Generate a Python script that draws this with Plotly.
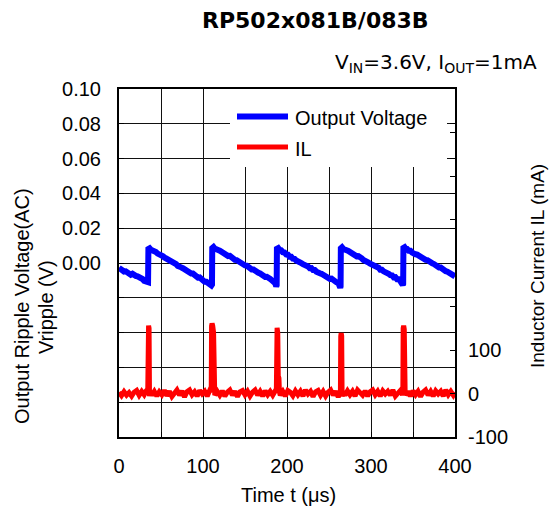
import plotly.graph_objects as go

# ---------------- data ----------------
# Output ripple voltage (V) vs time (us)
t_v = [0, 2, 4, 6, 8, 10, 12, 14, 16, 18, 20, 22, 24, 26, 28, 30, 32, 33.5, 34.6,
       35.0, 36.5, 38, 40, 42, 44, 46, 48, 50, 52, 54, 56, 58, 60, 62, 64, 66, 68, 70,
       72, 74, 76, 78, 80, 82, 84, 86, 88, 90, 92, 94, 96, 98, 100, 102, 104, 106, 108,
       110, 110.7,
       111.0, 112.5, 114, 116, 118, 120, 122, 124, 126, 128, 130, 132, 134, 136, 138,
       140, 142, 144, 146, 148, 150, 152, 154, 156, 158, 160, 162, 164, 166, 168, 170,
       172, 174, 176, 178, 180, 182, 184, 186, 187.2, 187.7,
       188.0, 189.5, 191, 193, 195, 197, 199, 201, 203, 205, 207, 209, 211, 213, 215,
       217, 219, 221, 223, 225, 227, 229, 231, 233, 235, 237, 239, 241, 243, 245, 247,
       249, 251, 253, 255, 257, 259, 261, 262.5, 263.4, 263.8,
       264.1, 265.5, 267, 269, 271, 273, 275, 277, 279, 281, 283, 285, 287, 289, 291,
       293, 295, 297, 299, 301, 303, 305, 307, 309, 311, 313, 315, 317, 319, 321, 323,
       325, 327, 329, 331, 333, 335, 336.8, 337.8, 338.3,
       338.6, 340, 341.5, 343, 345, 347, 349, 351, 353, 355, 357, 359, 361, 363, 365,
       367, 369, 371, 373, 375, 377, 379, 381, 383, 385, 387, 389, 391, 393, 395, 397,
       399, 400]
v_out = [-0.0028, -0.0036, -0.0038, -0.0049, -0.0048, -0.0058, -0.0058, -0.0067, -0.0062,
         -0.0074, -0.0074, -0.0077, -0.0080, -0.0090, -0.0092, -0.0103, -0.0106, -0.0114,
         -0.0110,
         0.0080, 0.0084, 0.0076, 0.0074, 0.0065, 0.0063, 0.0054, 0.0052, 0.0044, 0.0040,
         0.0032, 0.0027, 0.0019, 0.0019, 0.0006, 0.0006, -0.0002, -0.0006, -0.0017, -0.0017,
         -0.0025, -0.0030, -0.0038, -0.0038, -0.0049, -0.0053, -0.0061, -0.0061, -0.0072,
         -0.0076, -0.0084, -0.0083, -0.0095, -0.0097, -0.0108, -0.0108, -0.0116, -0.0120,
         -0.0129, -0.0124,
         0.0086, 0.0092, 0.0083, 0.0082, 0.0075, 0.0071, 0.0064, 0.0060, 0.0052, 0.0051,
         0.0040, 0.0041, 0.0029, 0.0029, 0.0018, 0.0017, 0.0009, 0.0005, -0.0002, -0.0006,
         -0.0014, -0.0015, -0.0026, -0.0025, -0.0037, -0.0037, -0.0046, -0.0049, -0.0056,
         -0.0060, -0.0068, -0.0069, -0.0080, -0.0079, -0.0091, -0.0091, -0.0100, -0.0104,
         -0.0117, -0.0134, -0.0128,
         0.0082, 0.0086, 0.0076, 0.0074, 0.0062, 0.0060, 0.0049, 0.0048, 0.0036, 0.0036,
         0.0025, 0.0024, 0.0014, 0.0012, 0.0004, 0.0000, -0.0007, -0.0010, -0.0018,
         -0.0020, -0.0030, -0.0029, -0.0040, -0.0040, -0.0050, -0.0051, -0.0059, -0.0062,
         -0.0069, -0.0072, -0.0080, -0.0081, -0.0091, -0.0090, -0.0101, -0.0101, -0.0111,
         -0.0114, -0.0127, -0.0142, -0.0134,
         0.0084, 0.0090, 0.0081, 0.0080, 0.0073, 0.0069, 0.0062, 0.0058, 0.0050, 0.0049,
         0.0038, 0.0039, 0.0027, 0.0027, 0.0017, 0.0015, 0.0007, 0.0003, -0.0004, -0.0008,
         -0.0016, -0.0017, -0.0028, -0.0027, -0.0039, -0.0039, -0.0048, -0.0051, -0.0058,
         -0.0062, -0.0070, -0.0071, -0.0082, -0.0081, -0.0093, -0.0093, -0.0104, -0.0120,
         -0.0126, -0.0120,
         0.0086, 0.0090, 0.0080, 0.0080, 0.0070, 0.0070, 0.0060, 0.0059, 0.0050, 0.0048,
         0.0040, 0.0037, 0.0029, 0.0027, 0.0018, 0.0017, 0.0007, 0.0006, -0.0002, -0.0006,
         -0.0014, -0.0015, -0.0026, -0.0026, -0.0037, -0.0038, -0.0047, -0.0050, -0.0058,
         -0.0061, -0.0070, -0.0072, -0.0077]

# Inductor current (mA) vs time (us)
t_il = [0, 3, 6, 9, 12, 15, 18, 21, 24, 27, 30, 33,
        34.2, 34.6, 35.2, 35.8, 36.3, 37,
        39, 42, 45, 48, 51, 54, 57, 60, 63, 66, 69, 72, 75, 78, 81, 84, 87, 90, 93, 96,
        99, 102, 105, 108,
        109.8, 110.2, 110.8, 111.6, 112.6, 113.2, 114,
        117, 120, 123, 126, 129, 132, 135, 138, 141, 144, 147, 150, 153, 156, 159, 162,
        165, 168, 171, 174, 177, 180, 183, 186,
        187.3, 187.7, 188.2, 189.0, 189.6, 190.4, 191, 192,
        195, 198, 201, 204, 207, 210, 213, 216, 219, 222, 225, 228, 231, 234, 237, 240,
        243, 246, 249, 252, 255, 258, 261, 263,
        263.6, 264.0, 264.5, 265.1, 265.6, 266.5,
        269, 272, 275, 278, 281, 284, 287, 290, 293, 296, 299, 302, 305, 308, 311, 314,
        317, 320, 323, 326, 329, 332, 335, 337.5,
        337.9, 338.3, 338.9, 339.6, 340.6, 341.3,
        344, 347, 350, 353, 356, 359, 362, 365, 368, 371, 374, 377, 380, 383, 386, 389,
        392, 395, 398, 400]
il = [3, -5, 4, -4, 2, -6, 3, 7, -4, 5, -3, 8,
      3, 150, 156, 150, -6, 6,
      -4, 5, -6, 4, -3, 7, -5, 5, -7, 3, 8, -4, 6, -8, 4, 8, -3, 4, -6, 7,
      -1, 5, -6, 7,
      4, 155, 161, 155, 140, 6, -4,
      5, -4, 6, -6, 3, 8, -4, 5, -7, 4, 7, -3, 5, -6, 3, 8,
      -4, 5, -6, 6, -3, 5, -4, 6,
      3, 145, 151, 140, 40, 35, 3, -4,
      5, -6, 7, 3, -5, 6, -3, 5, -6, 8, -1, 5, -7, 4, 7, -4,
      5, -6, 3, 8, -4, 5, -8, 3,
      3, 132, 139, 132, -7, 5,
      -4, 6, -3, 5, -6, 8, 2, -4, 6, -6, 4, 8, -3, 5, -6, 6,
      -1, 5, -4, 8, -6, 3, 7, -3,
      3, 150, 156, 148, 8, -4,
      5, -6, 6, -3, 5, -7, 3, 8, -4, 5, -6, 6, -1, 5, -6, 8,
      -3, 5, -4, 3]

x_major = [0, 100, 200, 300, 400]
x_minor = [50, 150, 250, 350]
y_major = [0.00, 0.02, 0.04, 0.06, 0.08, 0.10]
y_minor = [-0.10, -0.08, -0.06, -0.04, -0.02]
y2_major = [-100, 0, 100]
y2_minor = [200, 300, 400, 500, 600, 700]

series_names = ["Output Voltage", "IL"]
series_colors = ["#0000FF", "#FF0000"]

FONT = "Liberation Sans, Arial, sans-serif"
WIDE = "DejaVu Sans, Liberation Sans, sans-serif"

fig = go.Figure()
fig.add_trace(go.Scatter(x=t_v, y=v_out, mode="lines", name=series_names[0],
                         line=dict(color=series_colors[0], width=6), showlegend=False))
fig.add_trace(go.Scatter(x=t_il, y=il, mode="lines", name=series_names[1], yaxis="y2",
                         line=dict(color=series_colors[1], width=5), showlegend=False))

GRID = "#111"
fig.update_layout(
    width=549, height=514, autosize=False,
    margin=dict(l=119, r=94, t=89, b=77),
    paper_bgcolor="white", plot_bgcolor="white",
    font=dict(family=FONT, size=20, color="black"),
    xaxis=dict(range=[0, 400], tickvals=x_major, ticktext=[str(v) for v in x_major],
               showgrid=True, gridcolor=GRID, gridwidth=1,
               ticks="inside", ticklen=5, tickcolor="black",
               minor=dict(tickvals=x_minor, showgrid=True, gridcolor=GRID, gridwidth=1,
                          ticks="inside", ticklen=5, tickcolor="black"),
               showline=True, linecolor="black", linewidth=2, mirror=True,
               zeroline=False, ticklabelstandoff=10, tickfont=dict(size=20)),
    yaxis=dict(range=[-0.1, 0.1], tickvals=y_major, ticktext=["%.2f" % v for v in y_major],
               showgrid=True, gridcolor=GRID, gridwidth=1,
               ticks="inside", ticklen=5, tickcolor="black",
               minor=dict(tickvals=y_minor, showgrid=True, gridcolor=GRID, gridwidth=1,
                          ticks="inside", ticklen=5, tickcolor="black"),
               showline=True, linecolor="black", linewidth=2, mirror="ticks",
               zeroline=False, ticklabelstandoff=12, tickfont=dict(size=20)),
    yaxis2=dict(range=[-100, 700], tickvals=y2_major, ticktext=[str(v) for v in y2_major],
                overlaying="y", side="right", showgrid=False,
                ticks="inside", ticklen=5, tickcolor="black",
                minor=dict(tickvals=y2_minor, ticks="inside", ticklen=5, tickcolor="black"),
                showline=False, zeroline=False, ticklabelstandoff=12,
                tickfont=dict(size=20)),
)

# plot area in pixels: x 119..455, y 89..437
def px(x):
    return (x - 119) / 336.0

def py(y):
    return (437 - y) / 348.0

shapes = [
    dict(type="rect", xref="paper", yref="paper", x0=px(230), x1=px(447),
         y0=py(167), y1=py(89), fillcolor="white", line=dict(width=0), layer="above"),
    dict(type="line", xref="paper", yref="paper", x0=px(237), x1=px(288),
         y0=py(116.5), y1=py(116.5), line=dict(color=series_colors[0], width=6), layer="above"),
    dict(type="line", xref="paper", yref="paper", x0=px(237), x1=px(288),
         y0=py(147), y1=py(147), line=dict(color=series_colors[1], width=5), layer="above"),
]
fig.update_layout(shapes=shapes)

annotations = [
    dict(text="<b>RP502x081B/083B</b>", x=px(315), y=py(21), font=dict(size=22, family=WIDE)),
    dict(text="V<sub>IN</sub>=3.6V, I<sub>OUT</sub>=1mA", x=px(539), y=py(63),
         xanchor="right", font=dict(size=20, family=WIDE)),
    dict(text=series_names[0], x=px(293), y=py(118), xanchor="left", font=dict(size=20)),
    dict(text=series_names[1], x=px(293), y=py(149), xanchor="left", font=dict(size=20)),
    dict(text="Time t (μs)", x=px(288), y=py(495), font=dict(size=20)),
    dict(text="Output Ripple Voltage(AC)", x=px(22), y=py(306), textangle=-90, font=dict(size=20)),
    dict(text="Vripple (V)", x=px(46), y=py(307), textangle=-90, font=dict(size=20)),
    dict(text="Inductor Current IL (mA)", x=px(537), y=py(266), textangle=-90, font=dict(size=19)),
]
for a in annotations:
    a.setdefault("xanchor", "center")
    a.update(xref="paper", yref="paper", showarrow=False, yanchor="middle")
fig.update_layout(annotations=annotations)

fig.write_html("out.html", config={"displayModeBar": False},
               post_script="document.body.style.margin='0';")
